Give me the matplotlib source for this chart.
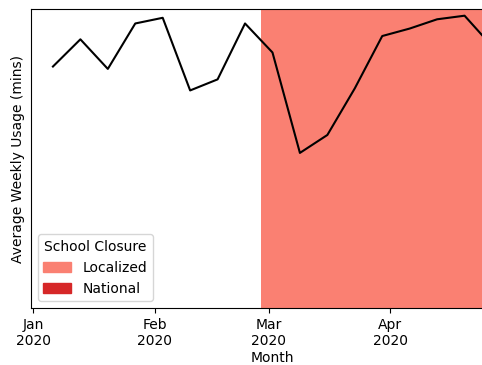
import matplotlib
matplotlib.use("Agg")
import matplotlib.pyplot as plt
import matplotlib.dates as mdates
from matplotlib.patches import Patch
import pandas as pd

# Weekly average usage (minutes), weeks starting Monday
weeks = pd.date_range("2020-01-06", "2020-04-27", freq="7D")
usage = [80.8, 89.9, 80.0, 95.2, 97.1, 72.8, 76.5, 95.2,
         85.5, 51.9, 57.9, 73.5, 91.0, 93.5, 96.6, 97.8, 87.6]

month_ticks = pd.date_range("2020-01-01", "2020-04-01", freq="MS")
closure_start = pd.Timestamp("2020-02-28")
closure_labels = ["Localized", "National"]
closure_colors = ["salmon", "#d62728"]

fig = plt.figure(figsize=(4.82, 3.65), dpi=100)
ax = fig.add_axes([0.0643, 0.156, 1.002, 0.819])

ax.plot(weeks, usage, color="black", linewidth=1.5, zorder=3)
ax.set_ylim(0, 100)
x0, x1 = ax.get_xlim()
ax.axvspan(mdates.date2num(closure_start), x1, color=closure_colors[0], zorder=1, linewidth=0)
ax.set_xlim(x0, x1)

ax.set_xticks(month_ticks)
ax.xaxis.set_major_formatter(mdates.DateFormatter("%b\n%Y"))
ax.set_yticks([])
ax.set_xlabel("Month", labelpad=2.5)
ax.set_ylabel("Average Weekly Usage (mins)")

handles = [Patch(color=c, label=l) for c, l in zip(closure_colors, closure_labels)]
ax.legend(handles=handles, title="School Closure", loc="lower left")

fig.savefig("out.png", dpi=100)
